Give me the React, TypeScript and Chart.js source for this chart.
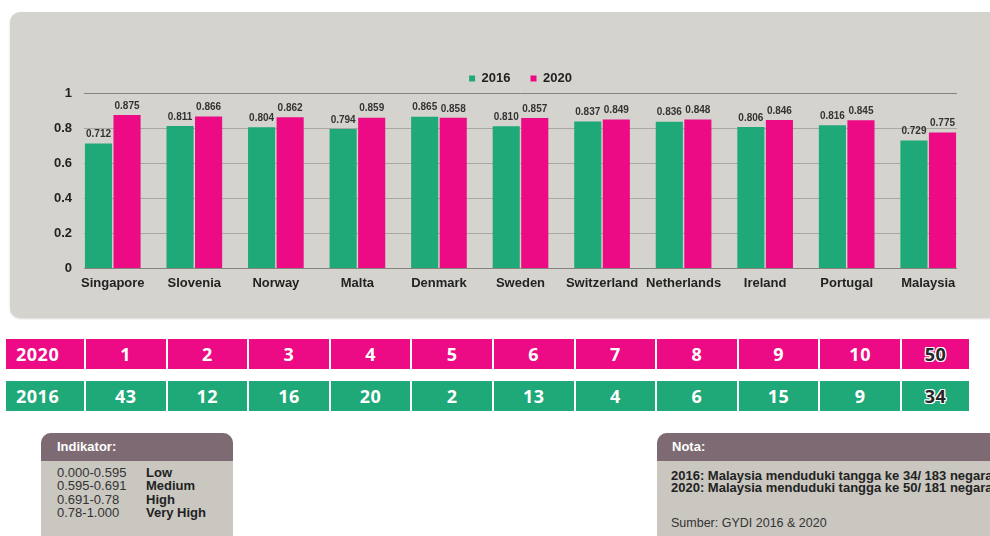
import React, { useEffect, useRef } from "react";
import { Chart, registerables } from "chart.js";

Chart.register(...registerables);

const categories = ["Singapore", "Slovenia", "Norway", "Malta", "Denmark", "Sweden", "Switzerland", "Netherlands", "Ireland", "Portugal", "Malaysia"];
const series2016 = [0.712, 0.811, 0.804, 0.794, 0.865, 0.81, 0.837, 0.836, 0.806, 0.816, 0.729];
const series2020 = [0.875, 0.866, 0.862, 0.859, 0.858, 0.857, 0.849, 0.848, 0.846, 0.845, 0.775];
const rank2020 = [1, 2, 3, 4, 5, 6, 7, 8, 9, 10, 50];
const rank2016 = [43, 12, 16, 20, 2, 13, 4, 6, 15, 9, 34];
const seriesNames = ["2016", "2020"];
const indikatorRanges = ["0.000-0.595", "0.595-0.691", "0.691-0.78", "0.78-1.000"];
const indikatorLabels = ["Low", "Medium", "High", "Very High"];
const notaLines = [
  "2016: Malaysia menduduki tangga ke 34/ 183 negara",
  "2020: Malaysia menduduki tangga ke 50/ 181 negara",
];
const sumber = "Sumber: GYDI 2016 & 2020";

const GREEN = "#1fa878";
const PINK = "#ec0a85";
const FONT = "'Liberation Sans', Arial, sans-serif";

const gridPlugin = {
  id: "insetGrid",
  beforeDatasetsDraw(chart: any) {
    const { ctx, chartArea } = chart;
    const y = chart.scales.y;
    ctx.save();
    y.ticks.forEach((t: any) => {
      const py = Math.round(y.getPixelForValue(t.value)) + 0.5;
      ctx.strokeStyle = t.value === 0 || t.value === 1 ? "#858480" : "#a9a7a2";
      ctx.lineWidth = 1;
      ctx.beginPath();
      ctx.moveTo(chartArea.left + 12, py);
      ctx.lineTo(chartArea.right - 12, py);
      ctx.stroke();
    });
    ctx.restore();
  },
};

const legendNudgePlugin = {
  id: "legendNudge",
  afterLayout(chart: any) {
    if (chart.legend) {
      chart.legend.top += 2;
      chart.legend.bottom += 2;
    }
  },
};

const valueLabelPlugin = {
  id: "valueLabels",
  afterDatasetsDraw(chart: any) {
    const { ctx } = chart;
    ctx.save();
    ctx.font = `bold 10px ${FONT}`;
    ctx.fillStyle = "#333";
    ctx.textAlign = "center";
    ctx.textBaseline = "bottom";
    chart.data.datasets.forEach((ds: any, di: number) => {
      const meta = chart.getDatasetMeta(di);
      meta.data.forEach((el: any, i: number) => {
        ctx.fillText(Number(ds.data[i]).toFixed(3), el.x, el.y - 4);
      });
    });
    ctx.restore();
  },
};

function ChartPanel() {
  const ref = useRef<HTMLCanvasElement | null>(null);
  useEffect(() => {
    if (!ref.current) return;
    const chart = new Chart(ref.current, {
      type: "bar",
      data: {
        labels: categories,
        datasets: [
          { label: seriesNames[0], data: series2016, backgroundColor: GREEN },
          { label: seriesNames[1], data: series2020, backgroundColor: PINK },
        ],
      },
      options: {
        animation: false,
        responsive: false,
        maintainAspectRatio: false,
        layout: { padding: { top: 38, right: 21, bottom: 20, left: 0 } },
        datasets: { bar: { categoryPercentage: 0.7, barPercentage: 0.95 } } as any,
        plugins: {
          legend: {
            fullSize: false,
            labels: {
              boxWidth: 6,
              boxHeight: 6,
              padding: 20,
              color: "#222",
              font: { family: FONT, size: 13, weight: "bold" },
            },
          },
          tooltip: { enabled: false },
        },
        scales: {
          x: {
            grid: { display: false, drawTicks: false },
            border: { display: false },
            ticks: { color: "#222", padding: 8, font: { family: FONT, size: 13, weight: "bold" }, maxRotation: 0, autoSkip: false },
            afterFit: (s: any) => { s.height = 30; },
          },
          y: {
            min: 0,
            max: 1,
            grid: { display: false, drawTicks: false },
            border: { display: false },
            ticks: {
              stepSize: 0.2,
              color: "#222",
              padding: 0,
              font: { family: FONT, size: 13, weight: "bold" },
              callback: (v: any) => String(Number(Number(v).toFixed(1))),
            },
            afterFit: (s: any) => { s.width = 62; },
          },
        },
      },
      plugins: [gridPlugin, valueLabelPlugin, legendNudgePlugin],
    });
    return () => chart.destroy();
  }, []);
  return <canvas ref={ref} width={980} height={306} style={{ position: "absolute", left: 0, top: 0 }} />;
}

const cellStyleBase: React.CSSProperties = {
  position: "absolute",
  height: 30,
  color: "#fff",
  fontFamily: "'Open Sans', sans-serif",
  fontWeight: 700,
  fontSize: 18,
  letterSpacing: 0.5,
  display: "flex",
  alignItems: "center",
  justifyContent: "center",
};

const outline = "1px 0 #fff, -1px 0 #fff, 0 1px #fff, 0 -1px #fff, 1px 1px #fff, -1px -1px #fff, 1px -1px #fff, -1px 1px #fff";

function RankRow({ label, ranks, color, top }: { label: string; ranks: number[]; color: string; top: number }) {
  return (
    <>
      <div style={{ ...cellStyleBase, left: 6, top, width: 78, background: color, justifyContent: "flex-start", paddingLeft: 10, boxSizing: "border-box" }}>{label}</div>
      {ranks.map((r, i) => {
        const isLast = i === ranks.length - 1;
        const left = 86 + i * 81.6;
        return (
          <div
            key={i}
            style={{
              ...cellStyleBase,
              left,
              top,
              width: isLast ? 67 : 79.5,
              background: color,
              color: isLast ? "#262626" : "#fff",
              textShadow: isLast ? outline : "none",
            }}
          >
            {r}
          </div>
        );
      })}
    </>
  );
}

export default function App() {
  return (
    <div style={{ position: "fixed", left: 0, top: 0, width: 990, height: 536, overflow: "hidden", background: "#fff", fontFamily: FONT }}>
      <div
        style={{
          position: "absolute",
          left: 10,
          top: 12,
          width: 1000,
          height: 306,
          background: "#d5d3cd",
          borderRadius: 10,
          boxShadow: "0 1px 2px rgba(0,0,0,0.15)",
        }}
      >
        <ChartPanel />
      </div>

      <RankRow label={seriesNames[1]} ranks={rank2020} color={PINK} top={339} />
      <RankRow label={seriesNames[0]} ranks={rank2016} color={GREEN} top={381} />

      <div style={{ position: "absolute", left: 41, top: 433, width: 192, height: 120, background: "#c9c7c0", borderRadius: "10px 10px 0 0", overflow: "hidden" }}>
        <div style={{ height: 28, background: "#7d6a72", color: "#fff", fontWeight: 700, fontSize: 13, lineHeight: "28px", paddingLeft: 16 }}>Indikator:</div>
        <div style={{ paddingTop: 5, paddingLeft: 16 }}>
          {indikatorRanges.map((r, i) => (
            <div key={i} style={{ display: "flex", fontSize: 13, lineHeight: "13.4px", color: "#333" }}>
              <span style={{ width: 89 }}>{r}</span>
              <span style={{ fontWeight: 700, color: "#222" }}>{indikatorLabels[i]}</span>
            </div>
          ))}
        </div>
      </div>

      <div style={{ position: "absolute", left: 657, top: 433, width: 400, height: 120, background: "#c9c7c0", borderRadius: "10px 10px 0 0", overflow: "hidden" }}>
        <div style={{ height: 28, background: "#7d6a72", color: "#fff", fontWeight: 700, fontSize: 13, lineHeight: "28px", paddingLeft: 15 }}>Nota:</div>
        <div style={{ paddingTop: 9, paddingLeft: 14, whiteSpace: "nowrap" }}>
          {notaLines.map((l, i) => (
            <div key={i} style={{ fontSize: 13, fontWeight: 700, lineHeight: "12px", color: "#222" }}>{l}</div>
          ))}
          <div style={{ fontSize: 12.5, lineHeight: "14px", color: "#333", marginTop: 22 }}>{sumber}</div>
        </div>
      </div>
    </div>
  );
}
